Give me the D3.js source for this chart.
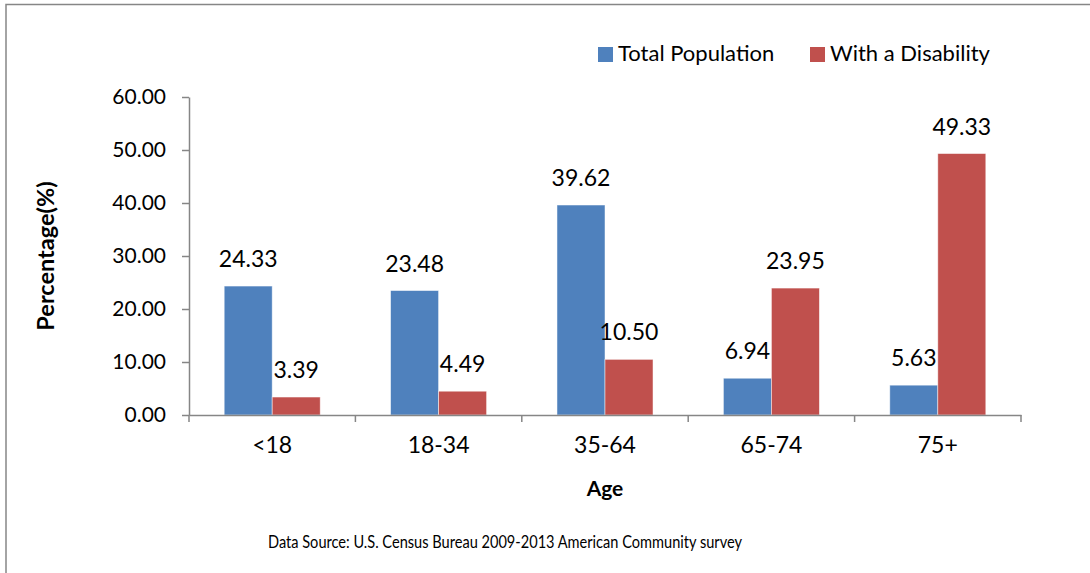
<!DOCTYPE html>
<html>
<head>
<meta charset="utf-8">
<script src="https://cdn.jsdelivr.net/npm/d3@7"></script>
<style>
  body { margin: 0; background: #fff; }
  text { font-family: Lato, "Open Sans", sans-serif; fill: #000; }
</style>
</head>
<body>
<div id="chart"></div>
<script>
var width = 1090,
    height = 573;

// data
var ages = ["<18", "18-34", "35-64", "65-74", "75+"];
var seriesNames = ["Total Population", "With a Disability"];
var totalPop = [24.33, 23.48, 39.62, 6.94, 5.63];
var withDisability = [3.39, 4.49, 10.50, 23.95, 49.33];
var yTicks = [0, 10, 20, 30, 40, 50, 60];
var colors = ["#4F81BD", "#C0504D"];

var margin = {left: 189, right: 69, top: 97, bottom: 158};

var svg = d3.select("#chart").append("svg")
    .attr("width", width)
    .attr("height", height);

// chart area border (left + top only visible)
svg.append("path")
    .attr("d", "M6,573V4.5H1090")
    .attr("fill", "none")
    .attr("stroke", "#868686")
    .attr("stroke-width", 1.5);

var x = d3.scaleBand()
    .domain(ages)
    .range([margin.left, width - margin.right]);

var x1 = d3.scaleBand()
    .domain(seriesNames)
    .range([0, x.bandwidth()])
    .paddingOuter(0.733);

var y = d3.scaleLinear()
    .domain([0, 60])
    .range([height - margin.bottom, margin.top]);

var rows = ages.map(function(a, i) {
    return {age: a, values: [
        {name: seriesNames[0], value: totalPop[i]},
        {name: seriesNames[1], value: withDisability[i]}
    ]};
});

// bars
var groups = svg.selectAll("g.grp")
    .data(rows)
    .enter().append("g")
    .attr("class", "grp")
    .attr("transform", function(d) { return "translate(" + x(d.age) + ",0)"; });

groups.selectAll("rect")
    .data(function(d) { return d.values; })
    .enter().append("rect")
    .attr("x", function(d) { return x1(d.name); })
    .attr("width", x1.bandwidth())
    .attr("y", function(d) { return y(d.value); })
    .attr("height", function(d) { return y(0) - y(d.value); })
    .attr("fill", function(d, i) { return colors[i]; })
    .attr("stroke", "#fff")
    .attr("stroke-opacity", 0.6)
    .attr("stroke-width", 0.8);

groups.selectAll("text.lbl")
    .data(function(d) { return d.values; })
    .enter().append("text")
    .attr("class", "lbl")
    .attr("x", function(d) { return x1(d.name) + x1.bandwidth() / 2; })
    .attr("y", function(d) { return y(d.value) - 19; })
    .attr("text-anchor", "middle")
    .style("font-size", "23px")
    .text(function(d) { return d.value.toFixed(2); });

// y axis
var yAxis = svg.append("g")
    .attr("transform", "translate(" + margin.left + ",0)")
    .call(d3.axisLeft(y).tickValues(yTicks).tickSize(7).tickSizeOuter(0)
        .tickFormat(function(d) { return d.toFixed(2); }));
yAxis.select(".domain").attr("stroke", "#868686").attr("stroke-width", 1.5);
yAxis.selectAll(".tick line").attr("stroke", "#868686").attr("stroke-width", 1.5);
yAxis.selectAll(".tick text")
    .attr("x", -23)
    .style("font-size", "21px")
    .style("font-family", "Lato, 'Open Sans', sans-serif");

// x axis
var xAxis = svg.append("g")
    .attr("transform", "translate(0," + y(0) + ")")
    .call(d3.axisBottom(x).tickSize(0).tickSizeOuter(0));
xAxis.select(".domain").attr("stroke", "#868686").attr("stroke-width", 1.5);
xAxis.selectAll(".tick text")
    .attr("y", 38)
    .attr("dy", 0)
    .style("font-size", "23px")
    .style("font-family", "Lato, 'Open Sans', sans-serif");

// category boundary ticks
var bounds = ages.map(function(a) { return x(a); }).concat([x.range()[1]]);
xAxis.selectAll("line.bound")
    .data(bounds)
    .enter().append("line")
    .attr("class", "bound")
    .attr("x1", function(d) { return d; })
    .attr("x2", function(d) { return d; })
    .attr("y1", 0)
    .attr("y2", 7)
    .attr("stroke", "#868686")
    .attr("stroke-width", 1.5);

// axis titles
svg.append("text")
    .attr("transform", "translate(54,256) rotate(-90)")
    .attr("text-anchor", "middle")
    .style("font-size", "23.5px")
    .style("font-weight", "bold")
    .text("Percentage(%)");

svg.append("text")
    .attr("x", 605)
    .attr("y", 496)
    .attr("text-anchor", "middle")
    .style("font-size", "21px")
    .style("font-weight", "bold")
    .text("Age");

// legend
var legendX = [598, 810];
var legend = svg.selectAll("g.leg")
    .data(seriesNames)
    .enter().append("g")
    .attr("class", "leg")
    .attr("transform", function(d, i) { return "translate(" + legendX[i] + ",47)"; });
legend.append("rect")
    .attr("width", 15)
    .attr("height", 15)
    .attr("fill", function(d, i) { return colors[i]; });
legend.append("text")
    .attr("x", 20)
    .attr("y", 14)
    .style("font-size", "22px")
    .text(function(d) { return d; });

// source note
svg.append("text")
    .attr("x", 505)
    .attr("y", 548)
    .attr("text-anchor", "middle")
    .attr("textLength", 474)
    .attr("lengthAdjust", "spacingAndGlyphs")
    .style("font-size", "17px")
    .text("Data Source: U.S. Census Bureau 2009-2013 American Community survey");
</script>
</body>
</html>
